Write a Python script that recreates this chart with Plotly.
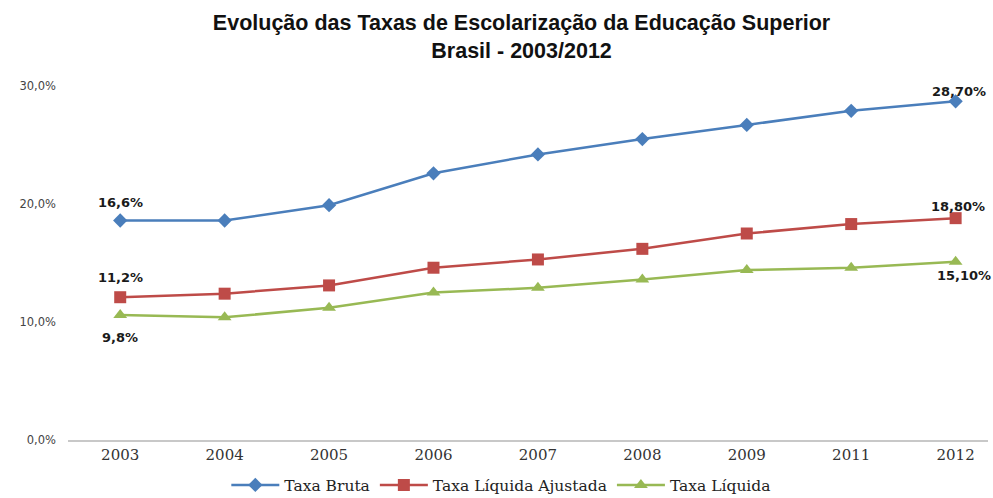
import plotly.graph_objects as go

anos = ["2003", "2004", "2005", "2006", "2007", "2008", "2009", "2011", "2012"]
taxa_bruta = [0.186, 0.186, 0.199, 0.226, 0.242, 0.255, 0.267, 0.279, 0.287]
taxa_liq_ajustada = [0.121, 0.124, 0.131, 0.146, 0.153, 0.162, 0.175, 0.183, 0.188]
taxa_liquida = [0.106, 0.104, 0.112, 0.125, 0.129, 0.136, 0.144, 0.146, 0.151]

series_names = ["Taxa Bruta", "Taxa Líquida Ajustada", "Taxa Líquida"]
colors = ["#4A7EBB", "#BE4B48", "#98B954"]
symbols = ["diamond", "square", "triangle-up"]

# data label texts as printed on the chart (first and last points)
label_first = ["16,6%", "11,2%", "9,8%"]
label_last = ["28,70%", "18,80%", "15,10%"]

y_ticks = [0, 0.10, 0.20, 0.30]

fig = go.Figure()
all_series = [taxa_bruta, taxa_liq_ajustada, taxa_liquida]
msizes = [11, 12, 12]
for name, vals, c, s, ms in zip(series_names, all_series, colors, symbols, msizes):
    fig.add_trace(go.Scatter(
        x=anos, y=vals, name=name, mode="lines+markers",
        line=dict(color=c, width=2.5),
        marker=dict(symbol=s, size=ms, color=c),
    ))

lbl_font = dict(family="DejaVu Sans", size=13, color="#1a1a1a")
first_shifts = [(0, 18), (0, 20), (0, -23)]
last_shifts = [(3, 10), (2, 12), (8, -14)]
n = len(anos)
for i, vals in enumerate(all_series):
    fx, fy = first_shifts[i]
    fig.add_annotation(x=0, y=vals[0], xref="x", yref="y",
                       text="<b>" + label_first[i] + "</b>",
                       showarrow=False, xshift=fx, yshift=fy, font=lbl_font)
    lx, ly = last_shifts[i]
    fig.add_annotation(x=n - 1, y=vals[-1], xref="x", yref="y",
                       text="<b>" + label_last[i] + "</b>",
                       showarrow=False, xshift=lx, yshift=ly, font=lbl_font)

fig.update_layout(
    width=993, height=498,
    paper_bgcolor="white", plot_bgcolor="white",
    separators=",.",
    margin=dict(l=68, r=5, t=86, b=58, autoexpand=False),
    title=dict(
        text="<b>Evolução das Taxas de Escolarização da Educação Superior<br>Brasil - 2003/2012</b>",
        x=0.493, xanchor="center", xref="paper",
        y=0.939, yanchor="top", yref="container",
        font=dict(family="Liberation Sans", size=21.5, color="#111"),
    ),
    showlegend=True,
    legend=dict(orientation="h", x=0.471, xanchor="center", xref="paper",
                y=-0.128, yanchor="middle", yref="paper",
                font=dict(family="DejaVu Serif", size=15.5, color="#222"),
                itemwidth=48, tracegroupgap=0),
    xaxis=dict(
        type="category", range=[-0.5, 8.31],
        showline=True, linecolor="#c8c8c8", linewidth=1.5,
        showgrid=False, ticks="", automargin=False,
        tickfont=dict(family="DejaVu Serif", size=15, color="#333"),
    ),
    yaxis=dict(
        range=[0, 0.30], tickvals=y_ticks, tickformat=".1%",
        showgrid=False, zeroline=False, showline=False, ticks="",
        automargin=False,
        tickfont=dict(family="DejaVu Sans", size=11.5, color="#444"),
        ticklabelstandoff=11,
    ),
)

fig.write_html("out.html", config={"displayModeBar": False},
               post_script="document.body.style.margin='0';")
